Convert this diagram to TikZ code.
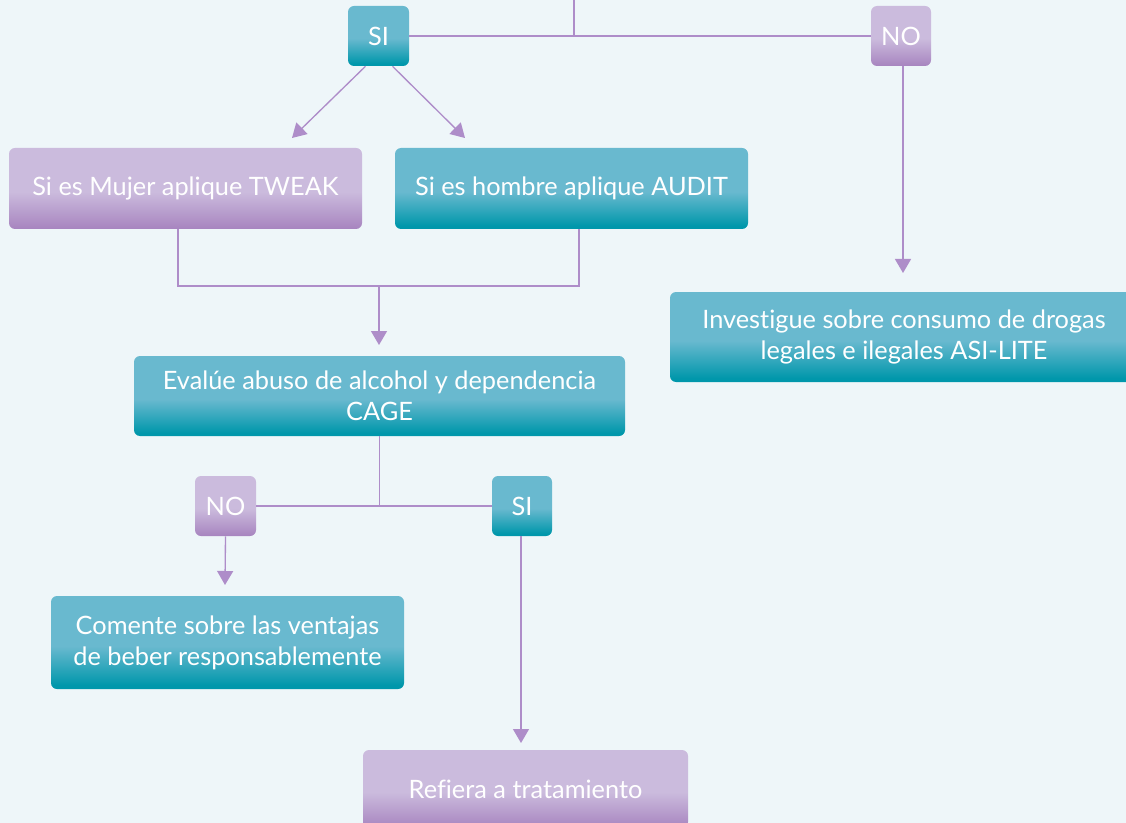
\documentclass[tikz,border=0pt]{standalone}
\usepackage{fontspec}
\setmainfont[Ligatures=NoCommon]{Lato}
\usetikzlibrary{arrows.meta,calc}
\definecolor{bgc}{HTML}{EEF6F9}
\definecolor{tealL}{HTML}{69B9CF}
\definecolor{tealD}{HTML}{0097AB}
\definecolor{purL}{HTML}{CBBBDD}
\definecolor{purD}{HTML}{A784BF}
\definecolor{linec}{HTML}{AE8DC9}
\pgfdeclareverticalshading{tealshade}{100bp}{color(0bp)=(tealD); color(27bp)=(tealD); color(48bp)=(tealL); color(100bp)=(tealL)}
\pgfdeclareverticalshading{purshade}{100bp}{color(0bp)=(purD); color(25bp)=(purD); color(48bp)=(purL); color(100bp)=(purL)}
\tikzset{
  box/.style={rounded corners=4.5pt, text=white, align=center, inner sep=0pt, font=\fontsize{19}{23.25}\selectfont},
  tealbox/.style={box, shading=tealshade},
  purbox/.style={box, shading=purshade},
  conn/.style={draw=linec, line width=1pt},
  arr/.style={conn, -{Triangle[width=12pt,length=10.5pt]}},
}
\begin{document}
\begin{tikzpicture}[x=0.75pt,y=-0.75pt]
\useasboundingbox (0,0) rectangle (1126,823);
\fill[bgc] (0,0) rectangle (1126,823);
% nodes
\node[tealbox, minimum width={61*0.75pt}, minimum height={60*0.75pt}] (si1) at (378.5,36) {SI};
\node[purbox, minimum width={60*0.75pt}, minimum height={60*0.75pt}] (no1) at (901,36) {NO};
\node[purbox, minimum width={353*0.75pt}, minimum height={81*0.75pt}] (tweak) at (185.5,188.5) {Si es Mujer aplique TWEAK};
\node[tealbox, minimum width={353*0.75pt}, minimum height={81*0.75pt}] (audit) at (571.5,188.5) {Si es hombre aplique AUDIT};
\node[tealbox, minimum width={468*0.75pt}, minimum height={90*0.75pt}] (asi) at (904,337) {Investigue sobre consumo de drogas\\legales e ilegales ASI-LITE};
\node[tealbox, minimum width={491*0.75pt}, minimum height={80*0.75pt}] (cage) at (379.5,396) {Evalúe abuso de alcohol y dependencia\\CAGE};
\node[purbox, minimum width={61*0.75pt}, minimum height={60*0.75pt}] (no2) at (225.5,506) {NO};
\node[tealbox, minimum width={60*0.75pt}, minimum height={60*0.75pt}] (si2) at (522,506) {SI};
\node[tealbox, minimum width={353*0.75pt}, minimum height={93*0.75pt}] (coment) at (227.5,642.5) {Comente sobre las ventajas\\de beber responsablemente};
\node[purbox, minimum width={325*0.75pt}, minimum height={78*0.75pt}] (ref) at (525.5,789) {Refiera a tratamiento};
% coordinates
\coordinate (top) at (574,0);
\coordinate (a1) at (292,138);
\coordinate (a2) at (465,138);
\coordinate (j1) at (379,286);
\coordinate (a3) at (379,345);
\coordinate (a4) at (903,273);
\coordinate (a5) at (225,585);
\coordinate (a6) at (521,743);
% connectors
\draw[conn] (si1.east) -- (no1.west);
\draw[conn] (top) -- (top |- si1.east);
\draw[arr] ($(si1.south)+(-13,0)$) -- (a1);
\draw[arr] ($(si1.south)+(14,0)$) -- (a2);
\draw[conn] ($(tweak.south)+(-7.5,0)$) |- (j1) -| ($(audit.south)+(7.5,0)$);
\draw[arr] (j1) -- (a3);
\draw[arr] ($(no1.south)+(2,0)$) -- (a4);
\draw[conn] (cage.south) -- (cage.south |- no2.east);
\draw[conn] (no2.east) -- (si2.west);
\draw[arr] (no2.south) -- (a5);
\draw[arr] ($(si2.south)+(-1,0)$) -- (a6);
\end{tikzpicture}
\end{document}
